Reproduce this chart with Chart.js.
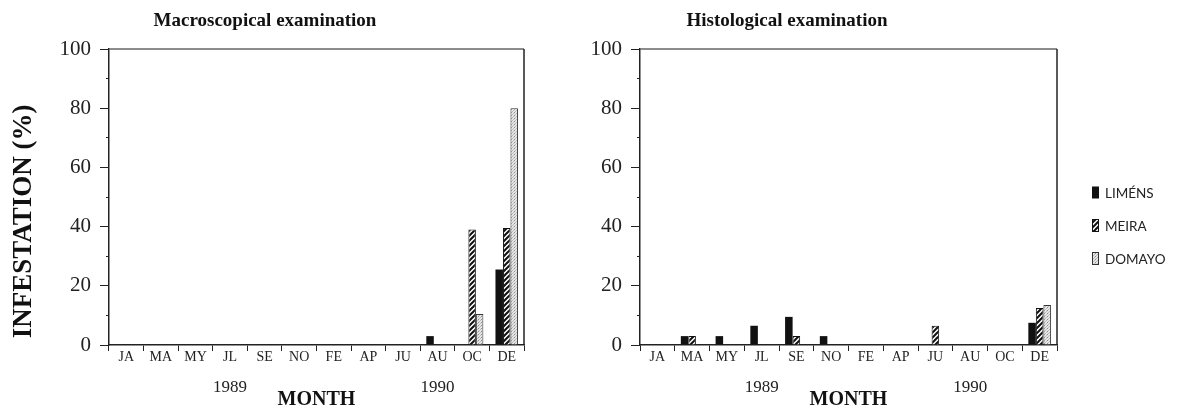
<!doctype html>
<html>
<head>
<title>Infestation by month</title>
<script src="https://cdn.jsdelivr.net/npm/chart.js@4/dist/chart.umd.min.js"></script>
<style>
body { margin: 0; background: #fff; }
#wrap { position: relative; width: 1198px; height: 410px; }
#wrap > canvas { position: absolute; top: 0; }
#macro { left: 0; }
#histo { left: 560px; }
.title { position: absolute; top: 9px; width: 300px; text-align: center; font-family: "Liberation Serif", serif; font-weight: bold; font-size: 19px; color: #111; }
#legend { position: absolute; left: 1091px; top: 176px; font-family: Lato, sans-serif; font-size: 13.5px; color: #222; }
#legend div { height: 33px; display: flex; align-items: center; }
#legend canvas { margin-right: 5px; }
</style>
</head>
<body>
<div id="wrap">
    <canvas id="macro" width="560" height="410"></canvas>
    <canvas id="histo" width="520" height="410"></canvas>
    <div class="title" style="left:115px">Macroscopical examination</div>
    <div class="title" style="left:637px">Histological examination</div>
    <div id="legend"></div>
</div>
<script>
// data
var months = ['JA', 'MA', 'MY', 'JL', 'SE', 'NO', 'FE', 'AP', 'JU', 'AU', 'OC', 'DE'];
var yearLabels = ['', '', '', '1989', '', '', '', '', '', '1990', '', ''];
var seriesNames = ['LIMÉNS', 'MEIRA', 'DOMAYO'];

var macroLimens = [null, null, null, null, null, null, null, null, null, 3, null, 25.5];
var macroMeira  = [null, null, null, null, null, null, null, null, null, null, 39, 39.5];
var macroDomayo = [null, null, null, null, null, null, null, null, null, null, 10.5, 80];

var histoLimens = [null, 3, 3, 6.5, 9.5, 3, null, null, null, null, null, 7.5];
var histoMeira  = [null, 3, null, null, 3, null, null, null, 6.5, null, null, 12.5];
var histoDomayo = [null, null, null, null, null, null, null, null, null, null, null, 13.5];

var serif = "'Liberation Serif', 'Times New Roman', serif";

// fill patterns
function makeHatch() {
    var c = document.createElement('canvas');
    c.width = 5; c.height = 5;
    var g = c.getContext('2d');
    g.fillStyle = '#fff';
    g.fillRect(0, 0, 5, 5);
    g.strokeStyle = '#111';
    g.lineWidth = 2;
    g.beginPath();
    g.moveTo(-1, 6); g.lineTo(6, -1);
    g.moveTo(-1, 1); g.lineTo(1, -1);
    g.moveTo(4, 6); g.lineTo(6, 4);
    g.stroke();
    return g.createPattern(c, 'repeat');
}
function makeDots() {
    var c = document.createElement('canvas');
    c.width = 3; c.height = 3;
    var g = c.getContext('2d');
    g.fillStyle = '#e6e6e6';
    g.fillRect(0, 0, 3, 3);
    g.fillStyle = '#8c8c8c';
    g.fillRect(1, 1, 1, 1);
    g.fillStyle = '#bbbbbb';
    g.fillRect(0, 2, 1, 1);
    g.fillRect(2, 0, 1, 1);
    return g.createPattern(c, 'repeat');
}
var hatch = makeHatch();
var dots = makeDots();
var fills = ['#111', hatch, dots];
var borders = ['#111', '#111', '#333'];

function datasets(l, m, d) {
    return [l, m, d].map(function(vals, i) {
        return {
            label: seriesNames[i],
            data: vals,
            backgroundColor: fills[i],
            borderColor: borders[i],
            borderWidth: i === 0 ? 0 : 1,
            categoryPercentage: 0.65,
            barPercentage: 1
        };
    });
}

// draws the top and right edges of the plot box
var frame = {
    id: 'frame',
    afterDraw: function(chart) {
        var a = chart.chartArea, c = chart.ctx;
        c.save();
        c.lineWidth = 1.5;
        c.strokeStyle = '#666';
        c.beginPath(); c.moveTo(a.left, a.top); c.lineTo(a.right, a.top); c.stroke();
        c.strokeStyle = '#222';
        c.beginPath(); c.moveTo(a.right, a.top); c.lineTo(a.right, a.bottom); c.stroke();
        c.restore();
    }
};

function scales(yWidth, withTitle) {
    return {
        x: {
            position: 'bottom',
            weight: 0,
            grid: { drawOnChartArea: false, offset: true, tickLength: 6, tickColor: '#222' },
            border: { color: '#222', width: 1.5 },
            ticks: { padding: -2, autoSkip: false, maxRotation: 0, color: '#222', font: { family: serif, size: 14 } },
            afterFit: function(s) { s.height = 21; }
        },
        years: {
            type: 'category',
            axis: 'x',
            labels: months,
            position: 'bottom',
            weight: 1,
            offset: true,
            grid: { display: false, drawTicks: false },
            border: { display: false },
            ticks: {
                padding: 11, autoSkip: false, maxRotation: 0, color: '#222',
                font: { family: serif, size: 17 },
                callback: function(v, i) { return yearLabels[i]; }
            },
            title: {
                display: true, text: 'MONTH', color: '#111',
                font: { family: serif, size: 20, weight: 'bold', lineHeight: 1 },
                padding: { top: 0, bottom: 0 }
            },
            afterFit: function(s) { s.height = 44; }
        },
        y: {
            min: 0,
            max: 100,
            ticks: {
                stepSize: 10, padding: 9, color: '#222',
                font: { family: serif, size: 21 },
                callback: function(v) { return v % 20 === 0 ? v : ''; }
            },
            grid: {
                drawOnChartArea: false, tickLength: 9, tickColor: '#222',
                tickBorderDash: function(ctx) { return ctx.tick && ctx.tick.value % 20 ? [0, 6, 3, 20] : []; }
            },
            border: { color: '#222', width: 1.5 },
            title: {
                display: withTitle, text: ' INFESTATION (%)', color: '#111', align: 'start',
                font: { family: serif, size: 27, weight: 'bold' },
                padding: { top: 8, bottom: 0 }
            },
            afterFit: function(s) { s.width = yWidth; }
        }
    };
}

function makeChart(id, sets, yWidth, withTitle, padRight) {
    return new Chart(document.getElementById(id), {
        type: 'bar',
        data: { labels: months, datasets: sets },
        options: {
            responsive: false,
            animation: false,
            layout: { padding: { top: 49, right: padRight, left: 0, bottom: 0 } },
            plugins: { legend: { display: false }, tooltip: { enabled: false } },
            scales: scales(yWidth, withTitle)
        },
        plugins: [frame]
    });
}

makeChart('macro', datasets(macroLimens, macroMeira, macroDomayo), 109, true, 36);
makeChart('histo', datasets(histoLimens, histoMeira, histoDomayo), 80, false, 23);

// legend
var legend = document.getElementById('legend');
seriesNames.forEach(function(name, i) {
    var row = document.createElement('div');
    var sw = document.createElement('canvas');
    sw.width = 9; sw.height = 13;
    var g = sw.getContext('2d');
    g.fillStyle = fills[i];
    g.fillRect(1, 0.5, 7, 12);
    if (i > 0) {
        g.strokeStyle = borders[i];
        g.lineWidth = 1;
        g.strokeRect(1.5, 0.5, 6, 12);
    }
    row.appendChild(sw);
    row.appendChild(document.createTextNode(name));
    legend.appendChild(row);
});
</script>
</body>
</html>
